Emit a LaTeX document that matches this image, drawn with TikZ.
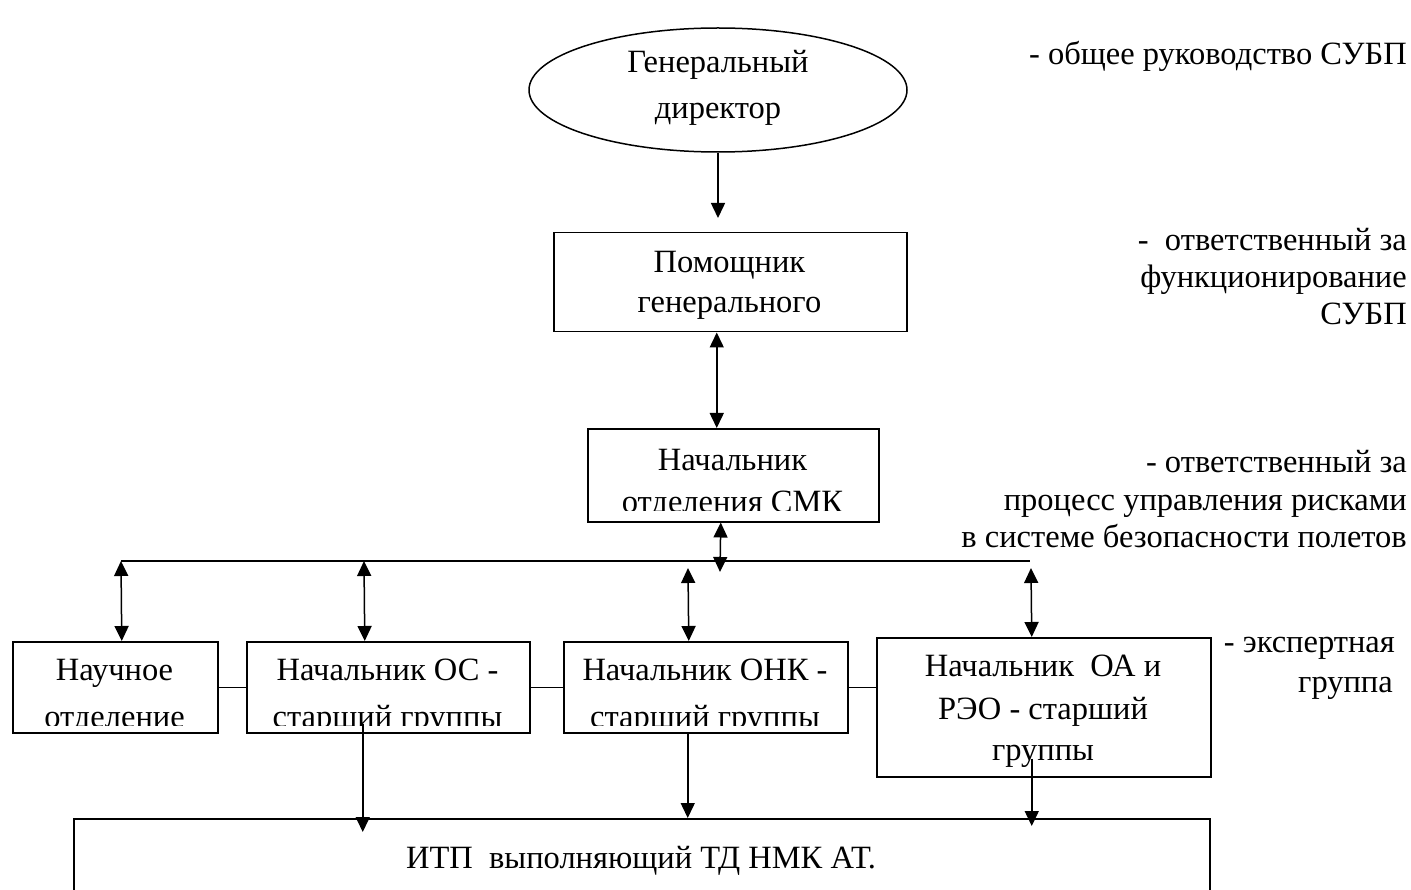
\documentclass[tikz,border=0pt]{standalone}
\usepackage{fontspec}
\setmainfont{Liberation Serif}
\usetikzlibrary{arrows.meta,shapes.geometric}
\begin{document}
\begin{tikzpicture}[x=1pt,y=-1pt,
  box/.style={draw,line width=1.5pt,inner sep=0pt,anchor=north west},
  lbl/.style={inner sep=0pt,anchor=base,font=\fontsize{32.5}{40}\selectfont},
  rlbl/.style={inner sep=0pt,anchor=base east,font=\fontsize{32.5}{40}\selectfont},
  con/.style={line width=1.5pt},
  arr/.style={line width=1.5pt,-{Triangle[length=15pt,width=14pt]}},
  darr/.style={line width=1.5pt,{Triangle[length=15pt,width=14pt]}-{Triangle[length=15pt,width=14pt]}},
]
\useasboundingbox (0,0) rectangle (1411,890);

% nodes
\node[draw,ellipse,line width=1.5pt,inner sep=0pt,minimum width=378pt,minimum height=124pt] (gd) at (718,90) {};
\node[lbl] (gd1) at (718,73) {Генеральный};
\node[lbl] (gd2) at (718,119) {директор};

\node[box,minimum width=353pt,minimum height=99pt] (b2) at (553,232) {};
\node[lbl] (b2a) at (729.5,273) {Помощник};
\node[lbl] (b2b) at (729.5,313) {генерального};

\node[box,minimum width=291pt,minimum height=93pt] (b3) at (587,428) {};
\node[lbl] (b3a) at (732.5,470) {Начальник};
\begin{scope}
\clip (587,428) rectangle (878,510);
\node[lbl] (b3b) at (732.5,512) {отделения СМК};
\end{scope}

\node[box,minimum width=205pt,minimum height=91pt] (n) at (12,641) {};
\node[lbl] (na) at (114.5,680) {Научное};
\begin{scope}
\clip (12,641) rectangle (217,725);
\node[lbl] (nb) at (114.5,727) {отделение};
\end{scope}

\node[box,minimum width=283pt,minimum height=91pt] (oc) at (246,641) {};
\node[lbl] (oca) at (387.5,680) {Начальник ОС -};
\begin{scope}
\clip (246,641) rectangle (529,725);
\node[lbl] (ocb) at (387.5,727) {старший группы};
\end{scope}

\node[box,minimum width=284pt,minimum height=91pt] (onk) at (563,641) {};
\node[lbl] (onka) at (705,680) {Начальник ОНК -};
\begin{scope}
\clip (563,641) rectangle (847,725);
\node[lbl] (onkb) at (705,727) {старший группы};
\end{scope}

\node[box,minimum width=334pt,minimum height=139pt] (b4) at (876,637) {};
\node[lbl] (b4a) at (1043,676) {Начальник\ \ ОА и};
\node[lbl] (b4b) at (1043,719) {РЭО - старший};
\node[lbl] (b4c) at (1043,760) {группы};

\node[box,minimum width=1136pt,minimum height=100pt] (itp) at (73,818) {};
\node[lbl] (itpa) at (641,868) {ИТП\ \ выполняющий ТД НМК АТ.};

% right side comments
\node[rlbl] (r1) at (1407,65) {- общее руководство СУБП};
\node[rlbl] (r2a) at (1407,251) {-\ \ ответственный за};
\node[rlbl] (r2b) at (1407,288) {функционирование};
\node[rlbl] (r2c) at (1407,325) {СУБП};
\node[rlbl] (r3a) at (1407,472) {- ответственный за};
\node[rlbl] (r3b) at (1407,510) {процесс управления рисками};
\node[rlbl] (r3c) at (1407,547) {в системе безопасности полетов};
\node[rlbl] (r4a) at (1395,652) {- экспертная};
\node[rlbl] (r4b) at (1393,692) {группа};

% coordinates
\coordinate (a1end) at (718,218);
\coordinate (a3end) at (720,572);
\coordinate (hl) at (121,561);
\coordinate (hm) at (364,561);
\coordinate (hr) at (1030,561);
\coordinate (h6) at (688,568);
\coordinate (h7) at (1031,568);

% connectors
\draw[arr] (gd.south) -- (a1end);
\draw[darr] ([xshift=-13.5pt]b2.south) -- ([xshift=-16.5pt]b3.north);
\draw[darr] ([xshift=-12.5pt]b3.south) -- (a3end);
\draw[con] (hl) -- (hr);
\draw[darr] (hl) -- ([xshift=6.5pt]n.north);
\draw[darr] (hm) -- ([xshift=-23.5pt]oc.north);
\draw[darr] (h6) -- ([xshift=-17pt]onk.north);
\draw[darr] (h7) -- ([xshift=-12pt]b4.north);

\draw[con] (n.east) -- (oc.west);
\draw[con] (oc.east) -- (onk.west);
\draw[con] (onk.east) -- (onk.east -| b4.west);

\draw[arr,shorten <=-10pt,shorten >=-14pt] ([xshift=-25.5pt]oc.south) -- ([xshift=-279pt]itp.north);
\draw[arr] ([xshift=-18pt]onk.south) -- ([xshift=46pt]itp.north);
\draw[arr,shorten <=-19pt,shorten >=-8pt] ([xshift=-12pt]b4.south) -- ([xshift=390pt]itp.north);
\end{tikzpicture}
\end{document}
